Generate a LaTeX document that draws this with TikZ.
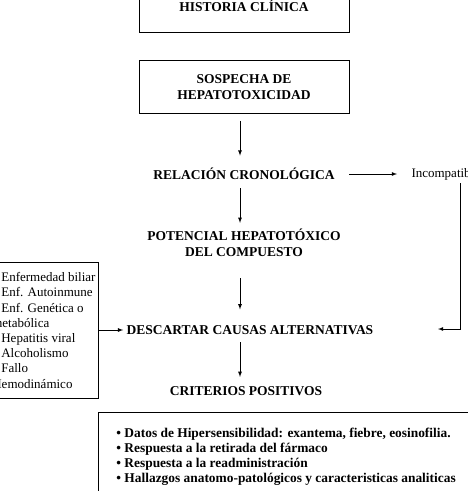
\documentclass[tikz,border=0pt]{standalone}
\usepackage{fontspec}
\setmainfont{Liberation Serif}

\tikzset{
  head/.style={align=center,font=\fontsize{13.5}{15.5}\selectfont\bfseries},
  box/.style={head,draw,line width=0.9pt,minimum width=210pt,minimum height=53pt},
  plain/.style={align=left,font=\fontsize{13}{15.2}\selectfont},
  frame/.style={draw,line width=0.9pt},
  arr/.style={->,>=latex,line width=0.8pt}
}

\begin{document}
\begin{tikzpicture}[x=1pt,y=-1pt,node distance=80pt]
  \useasboundingbox (0,0) rectangle (468,491);
  \clip (0,0) rectangle (468,491);
  \coordinate (axis) at (240,0);
  \node(hist) [box] at (244,6) {HISTORIA CLÍNICA};
  \node[below of=hist,node distance=81pt](sosp)    [box]{SOSPECHA DE\\HEPATOTOXICIDAD};
  \node[below of=sosp,node distance=87pt](relac)   [head]{RELACIÓN CRONOLÓGICA};
  \node[below of=relac,node distance=69pt](pot)    [head]{POTENCIAL HEPATOTÓXICO\\DEL COMPUESTO};
  \node[below of=pot,node distance=87pt,xshift=6pt](desc) [head]{DESCARTAR CAUSAS ALTERNATIVAS};
  \node[below of=desc,node distance=61pt,xshift=-4pt](crit) [head]{CRITERIOS POSITIVOS};
  \node(incomp) [plain,anchor=west] at (408,174) {Incompatible};
  \node(causes) [plain,frame,anchor=north east,minimum height=136pt,inner xsep=3pt] at (99,262)
    {\hspace*{9pt}Enfermedad biliar\\
     \hspace*{9pt}Enf. Autoinmune\\
     \hspace*{9pt}Enf. Genética o\\
     metabólica\\
     \hspace*{9pt}Hepatitis viral\\
     \hspace*{9pt}Alcoholismo\\
     \hspace*{9pt}Fallo\\
     Hemodinámico};
  \node(signs) [plain,frame,anchor=north west,inner xsep=18pt,inner ysep=16pt,text depth=60pt,
    font=\fontsize{13.4}{15}\selectfont\bfseries] at (98,412)
    {• Datos de Hipersensibilidad: exantema, fiebre, eosinofilia.\\
     • Respuesta a la retirada del fármaco\\
     • Respuesta a la readministración\\
     • Hallazgos anatomo-patológicos y caracteristicas analiticas};
  \coordinate (back) at (438,329);
  \draw[arr,shorten <=7pt,shorten >=9pt] (sosp.south -| axis) -- (relac.north -| axis);
  \draw[arr,shorten <=5pt,shorten >=3pt] (relac.south -| axis) -- (pot.north -| axis);
  \draw[arr,shorten <=18pt,shorten >=12.5pt] (pot.south -| axis) -- (desc.north -| axis);
  \draw[arr,shorten <=4pt,shorten >=6pt] (desc.south -| axis) -- (crit.north -| axis);
  \draw[arr,shorten <=11pt,shorten >=11pt] (relac.east) -- (relac.east -| incomp.west);
  \draw[arr] ([xshift=15pt]incomp.south) |- (back);
  \draw[arr] (causes.east |- desc) -- (desc.west);
\end{tikzpicture}
\end{document}
